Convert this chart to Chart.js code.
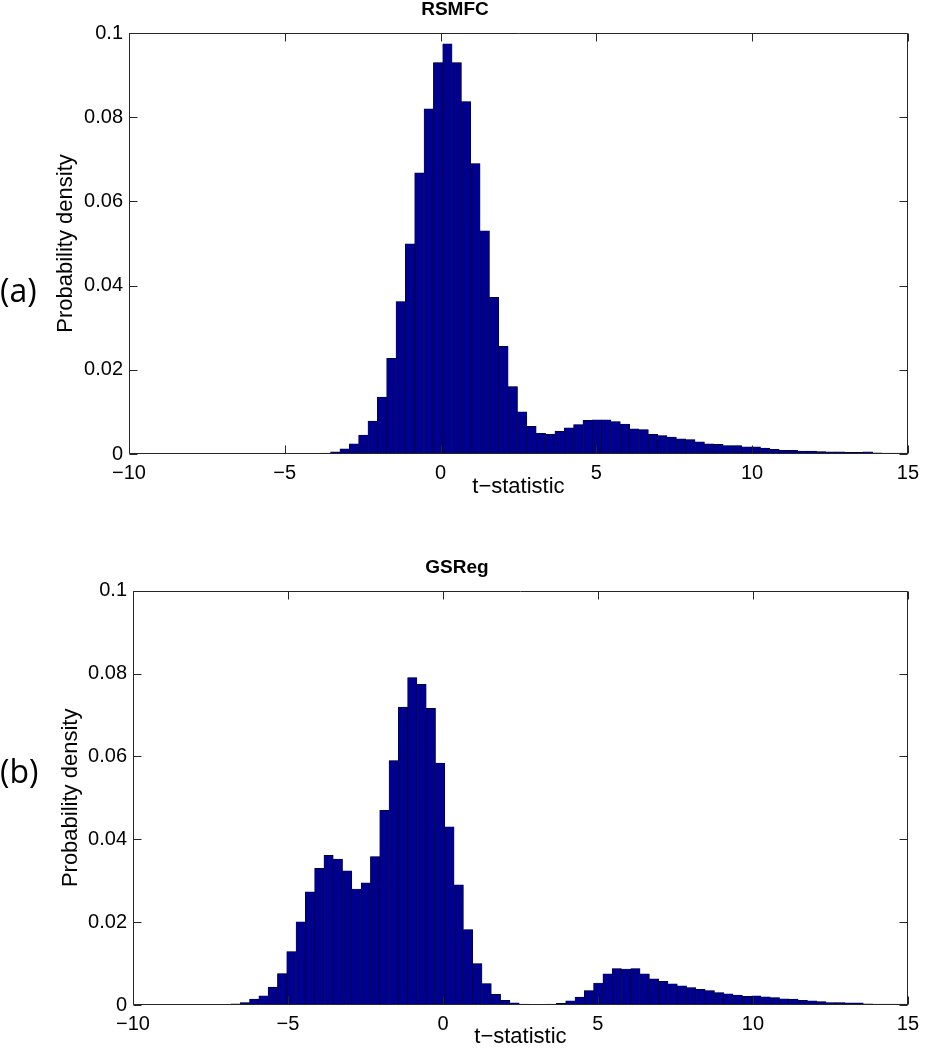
<!DOCTYPE html>
<html>
<head>
<meta charset="utf-8">
<script src="https://cdn.jsdelivr.net/npm/chart.js@4.4.1/dist/chart.umd.min.js"></script>
<style>
  html, body { margin: 0; padding: 0; background: #fff; }
  body { width: 926px; height: 1050px; position: relative; overflow: hidden; }
  canvas { position: absolute; left: 0; }
  #chartA { top: 0; }
  #chartB { top: 555px; }
  .tag { position: absolute; left: 0; font-family: 'Open Sans', 'Noto Sans', sans-serif; font-size: 32px; line-height: 40px; color: #000; }
</style>
</head>
<body>
<canvas id="chartA" width="926" height="500"></canvas>
<canvas id="chartB" width="926" height="495"></canvas>
<div class="tag" style="top:270px">(a)</div>
<div class="tag" style="top:751px">(b)</div>
<script>
// bin centres (t-statistic) and probability density per bin
const rsmfcBins = [
	-3.98, -3.68, -3.38, -3.08, -2.78, -2.48, -2.18, -1.88, -1.58, -1.28, -0.98, -0.68, -0.38, -0.08,
	0.22, 0.52, 0.82, 1.12, 1.42, 1.72, 2.02, 2.32, 2.62, 2.92, 3.22, 3.52, 3.82, 4.12, 4.42, 4.72,
	5.02, 5.32, 5.62, 5.92, 6.22, 6.52, 6.82, 7.12, 7.42, 7.72, 8.02, 8.32, 8.62, 8.92, 9.22, 9.52,
	9.82, 10.12, 10.42, 10.72, 11.02, 11.32, 11.62, 11.92, 12.22, 12.52, 12.82, 13.12, 13.42, 13.72,
	14.02, 14.32, 14.62, 14.92,
];
const rsmfcDensity = [
	0.0001, 0.0002, 0.0005, 0.0012, 0.0024, 0.0045, 0.0078, 0.0135, 0.0227, 0.0362, 0.0499, 0.0668, 0.082, 0.093,
	0.0974, 0.093, 0.0837, 0.069, 0.053, 0.0372, 0.0256, 0.016, 0.01, 0.0066, 0.0049, 0.0047, 0.0054, 0.0062, 0.007, 0.008,
	0.0081, 0.0081, 0.0077, 0.0071, 0.006, 0.0058, 0.0047, 0.0044, 0.004, 0.0036, 0.0034, 0.0029, 0.0024, 0.0023, 0.002, 0.002,
	0.0017, 0.0017, 0.0014, 0.0011, 0.0009, 0.0009, 0.0007, 0.0007, 0.0006, 0.0005, 0.0005, 0.0004, 0.0004, 0.0005,
	0.0003, 0.0002, 0.0002, 0.0002,
];
const gsregBins = [
	-6.99, -6.69, -6.39, -6.09, -5.79, -5.49, -5.19, -4.89, -4.59, -4.29, -3.99, -3.69, -3.39, -3.09,
	-2.79, -2.49, -2.19, -1.89, -1.59, -1.29, -0.99, -0.69, -0.39, -0.09, 0.21, 0.51, 0.81, 1.11,
	1.41, 1.71, 2.01, 2.31, 2.61, 2.91, 3.21, 3.51, 3.81, 4.11, 4.41, 4.71, 5.01, 5.31, 5.61, 5.91,
	6.21, 6.51, 6.81, 7.11, 7.41, 7.71, 8.01, 8.31, 8.61, 8.91, 9.21, 9.51, 9.81, 10.11, 10.41, 10.71,
	11.01, 11.31, 11.61, 11.91, 12.21, 12.51, 12.81, 13.11, 13.41, 13.71, 14.01, 14.31, 14.61, 14.91,
];
const gsregDensity = [
	0.0001, 0.0003, 0.0006, 0.0014, 0.0022, 0.0043, 0.0076, 0.0129, 0.0201, 0.0273, 0.033, 0.0361, 0.0352, 0.0324,
	0.028, 0.0295, 0.0358, 0.047, 0.059, 0.0719, 0.079, 0.0774, 0.0716, 0.0584, 0.043, 0.029, 0.0182, 0.01,
	0.0052, 0.0026, 0.0011, 0.0005, 0.0002, 0.0001, 0.0001, 0.0002, 0.0004, 0.001, 0.0019, 0.0035, 0.0053, 0.0075, 0.0088, 0.0087,
	0.0088, 0.0075, 0.0063, 0.0057, 0.0051, 0.0046, 0.0042, 0.0038, 0.0035, 0.003, 0.0027, 0.0024, 0.0021, 0.0022, 0.002, 0.0018,
	0.0015, 0.0014, 0.0011, 0.001, 0.0008, 0.0006, 0.0006, 0.0005, 0.0005, 0.0003, 0.0002, 0.0002, 0.0002, 0.0002,
];
const xTicks = { min: -10, max: 15, step: 5 };
const yTicks = { min: 0, max: 0.1, step: 0.02 };

Chart.defaults.font.family = "'Liberation Sans', Arial, sans-serif";
Chart.defaults.color = '#000';

// matlab style box with ticks pointing inwards
const boxPlugin = {
	id: 'box',
	afterDatasetsDraw(chart) {
		const { ctx, chartArea: a, scales } = chart;
		const L = Math.round(a.left) + 0.5, R = Math.round(a.right) - 0.5;
		const T = Math.round(a.top) + 0.5, B = Math.round(a.bottom) - 0.5;
		ctx.save();
		ctx.strokeStyle = '#262626';
		ctx.lineWidth = 1;
		ctx.beginPath();
		ctx.rect(L, T, R - L, B - T);
		scales.x.ticks.forEach(t => {
			const px = Math.round(scales.x.getPixelForValue(t.value)) + 0.5;
			ctx.moveTo(px, B); ctx.lineTo(px, B - 8);
			ctx.moveTo(px, T); ctx.lineTo(px, T + 8);
		});
		scales.y.ticks.forEach(t => {
			const py = Math.round(scales.y.getPixelForValue(t.value)) + 0.5;
			ctx.moveTo(L, py); ctx.lineTo(L + 8, py);
			ctx.moveTo(R, py); ctx.lineTo(R - 8, py);
		});
		ctx.stroke();
		ctx.restore();
	},
};

const makeHist = (id, title, bins, density, opts) => {
	new Chart(document.getElementById(id), {
		type: 'bar',
		data: {
			datasets: [{
				data: bins.map((b, i) => ({ x: b, y: density[i] })),
				backgroundColor: 'rgb(0, 0, 143)',
				borderColor: '#000',
				borderWidth: 0.5,
				borderSkipped: 'start',
				barPercentage: 1,
				categoryPercentage: 1,
				clip: 0,
			}],
		},
		options: {
			responsive: false,
			animation: false,
			devicePixelRatio: 1,
			layout: { padding: { left: 0, right: opts.right, top: 0, bottom: 0 } },
			plugins: {
				legend: { display: false },
				tooltip: { enabled: false },
				title: {
					display: true,
					text: title,
					font: { size: 19, weight: 'bold', lineHeight: 1 },
					padding: { top: opts.titleTop, bottom: opts.titleBottom },
				},
			},
			scales: {
				x: {
					type: 'linear',
					min: xTicks.min,
					max: xTicks.max,
					offset: false,
					grid: { display: false, drawTicks: false, offset: false },
					border: { display: false },
					ticks: {
						stepSize: xTicks.step,
						padding: 7,
						font: { size: 20 },
						maxRotation: 0,
						callback: v => String(v).replace('-', '\u2212'),
					},
					title: { display: true, text: 't\u2212statistic', font: { size: 22 }, padding: 0 },
					afterFit: s => { s.height = opts.xHeight; },
				},
				y: {
					min: yTicks.min,
					max: yTicks.max,
					grid: { display: false, drawTicks: false },
					border: { display: false },
					ticks: {
						stepSize: yTicks.step,
						padding: 6,
						font: { size: 20 },
						callback: v => String(+v.toFixed(2)),
					},
					title: { display: true, text: 'Probability density', font: { size: 22 }, padding: { top: opts.yTitle } },
					afterFit: s => { s.width = opts.yWidth; },
				},
			},
		},
		plugins: [boxPlugin],
	});
};

makeHist('chartA', 'RSMFC', rsmfcBins, rsmfcDensity, { right: 16, titleTop: 0, titleBottom: 14, xHeight: 46, yWidth: 129, yTitle: 53 });
makeHist('chartB', 'GSReg', gsregBins, gsregDensity, { right: 12, titleTop: 3.5, titleBottom: 13.2, xHeight: 45, yWidth: 133, yTitle: 58 });
</script>
</body>
</html>
